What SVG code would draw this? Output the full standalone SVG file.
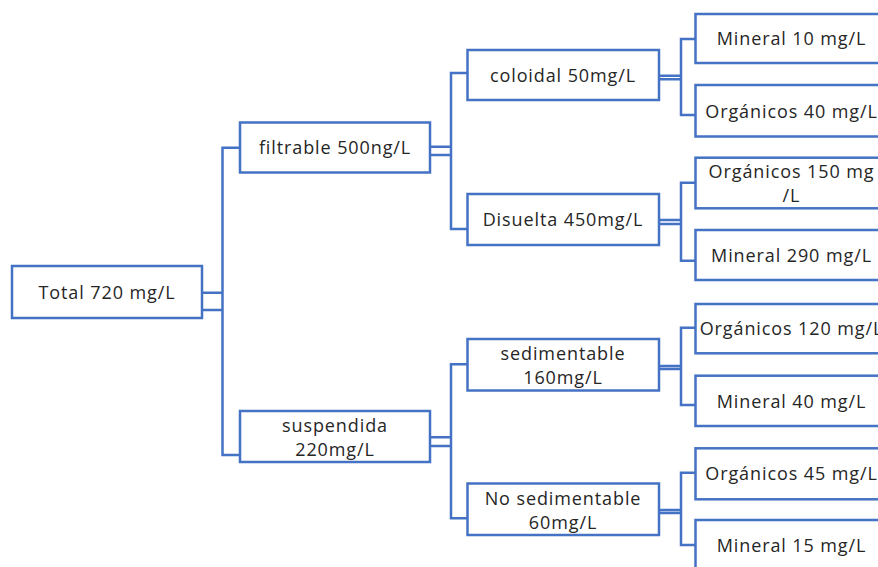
<svg xmlns="http://www.w3.org/2000/svg" width="878" height="567" viewBox="0 0 878 567">
  <style>
    .box { fill: #ffffff; stroke: #4472C4; stroke-width: 2.5; }
    .link { fill: none; stroke: #4472C4; stroke-width: 2.5; }
    .lbl { font-family: "Open Sans", "Noto Sans", sans-serif; font-size: 18px; letter-spacing: 0.9px; fill: #262626; text-anchor: middle; }
  </style>
  <rect width="878" height="567" fill="#ffffff"/>

  <!-- connectors -->
  <g id="connectors" class="link">
    <!-- Total -> filtrable / suspendida -->
    <path d="M202 292.7 H222.5 M202 310 H222.5 M240 147.7 H222.5 V455 H240"/>
    <!-- filtrable -> coloidal / Disuelta -->
    <path d="M430 146.7 H451 M430 155 H451 M467.5 73 H451 V229 H467.5"/>
    <!-- suspendida -> sedimentable / No sedimentable -->
    <path d="M430 437.3 H451 M430 446 H451 M467.5 364.3 H451 V518.3 H467.5"/>
    <!-- coloidal -> leaves -->
    <path d="M659 75.7 H681 M659 79.3 H681 M695.5 39 H681 V115 H695.5"/>
    <!-- Disuelta -> leaves -->
    <path d="M659 220 H681 M659 224 H681 M695.5 182.7 H681 V260.7 H695.5"/>
    <!-- sedimentable -> leaves -->
    <path d="M659 366 H681 M659 369 H681 M695.5 327.7 H681 V405 H695.5"/>
    <!-- No sedimentable -> leaves -->
    <path d="M659 510 H681 M659 513 H681 M695.5 472.7 H681 V545 H695.5"/>
  </g>

  <!-- root -->
  <g id="total">
    <rect class="box" x="12" y="266" width="190" height="52"/>
    <text class="lbl" x="107" y="298.5">Total 720 mg/L</text>
  </g>

  <!-- first level -->
  <g id="filtrable">
    <rect class="box" x="240" y="122.5" width="190" height="50"/>
    <text class="lbl" x="335" y="154">filtrable 500ng/L</text>
  </g>
  <g id="suspendida">
    <rect class="box" x="240" y="411" width="190" height="51"/>
    <text class="lbl" x="335" y="432">suspendida</text>
    <text class="lbl" x="335" y="456">220mg/L</text>
  </g>

  <!-- second level -->
  <g id="coloidal">
    <rect class="box" x="467.5" y="50" width="191.5" height="50"/>
    <text class="lbl" x="563" y="81.5">coloidal 50mg/L</text>
  </g>
  <g id="disuelta">
    <rect class="box" x="467.5" y="194" width="191.5" height="51"/>
    <text class="lbl" x="563" y="226">Disuelta 450mg/L</text>
  </g>
  <g id="sedimentable">
    <rect class="box" x="467.5" y="339" width="191.5" height="51.5"/>
    <text class="lbl" x="563" y="360">sedimentable</text>
    <text class="lbl" x="563" y="384">160mg/L</text>
  </g>
  <g id="no-sedimentable">
    <rect class="box" x="467.5" y="483.5" width="191.5" height="51.5"/>
    <text class="lbl" x="563" y="504.5">No sedimentable</text>
    <text class="lbl" x="563" y="528.5">60mg/L</text>
  </g>

  <!-- leaves -->
  <g id="mineral-10">
    <rect class="box" x="695.5" y="14" width="192" height="49"/>
    <text class="lbl" x="791.5" y="45">Mineral 10 mg/L</text>
  </g>
  <g id="organicos-40">
    <rect class="box" x="695.5" y="85" width="192" height="51.5"/>
    <text class="lbl" x="791.5" y="117.5">Orgánicos 40 mg/L</text>
  </g>
  <g id="organicos-150">
    <rect class="box" x="695.5" y="157.7" width="192" height="50.6"/>
    <text class="lbl" x="791.5" y="178">Orgánicos 150 mg</text>
    <text class="lbl" x="791.5" y="201.5">/L</text>
  </g>
  <g id="mineral-290">
    <rect class="box" x="695.5" y="230" width="192" height="50"/>
    <text class="lbl" x="791.5" y="261.5">Mineral 290 mg/L</text>
  </g>
  <g id="organicos-120">
    <rect class="box" x="695.5" y="304" width="192" height="49.3"/>
    <text class="lbl" x="791.5" y="335">Orgánicos 120 mg/L</text>
  </g>
  <g id="mineral-40">
    <rect class="box" x="695.5" y="375.7" width="192" height="50.3"/>
    <text class="lbl" x="791.5" y="407.5">Mineral 40 mg/L</text>
  </g>
  <g id="organicos-45">
    <rect class="box" x="695.5" y="448.3" width="192" height="51"/>
    <text class="lbl" x="791.5" y="480">Orgánicos 45 mg/L</text>
  </g>
  <g id="mineral-15">
    <rect class="box" x="695.5" y="520" width="192" height="51"/>
    <text class="lbl" x="791.5" y="552">Mineral 15 mg/L</text>
  </g>
</svg>
